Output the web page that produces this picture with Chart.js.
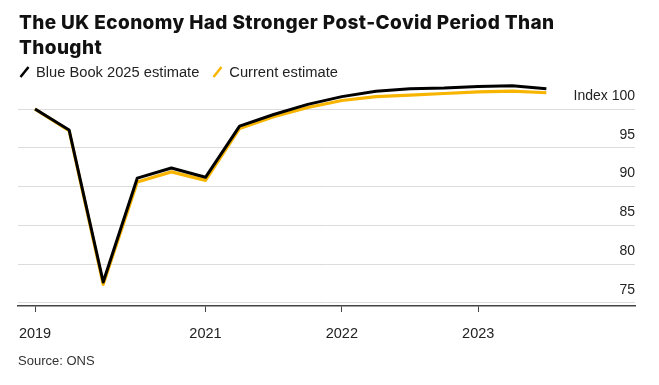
<!DOCTYPE html>
<html>
<head>
<meta charset="utf-8">
<script src="https://cdn.jsdelivr.net/npm/chart.js@4/dist/chart.umd.min.js"></script>
<style>
  html, body { margin: 0; padding: 0; background: #fff; }
  #wrap { position: relative; width: 659px; height: 385px; overflow: hidden; }
  #chart { position: absolute; left: 0; top: 0; }
  .title { position: absolute; left: 19px; top: 10px; font-family: Inter, "Liberation Sans", sans-serif;
    font-weight: 800; font-size: 19px; line-height: 25px; color: #111; letter-spacing: 0.4px; }
  .legend { position: absolute; left: 19px; top: 64px; font-family: "Liberation Sans", Arial, sans-serif;
    font-size: 14.7px; line-height: 16px; color: #222; white-space: nowrap; }
  .legend span { display: inline-block; vertical-align: top; }
  .legend svg { vertical-align: top; margin-right: 6px; }
  .source { position: absolute; left: 18px; top: 353px; font-family: "Liberation Sans", Arial, sans-serif;
    font-size: 13px; line-height: 15px; color: #333; }
</style>
</head>
<body>
<div id="wrap">
  <canvas id="chart" width="659" height="385"></canvas>
  <div class="title">The UK Economy Had Stronger Post-Covid Period Than<br>Thought</div>
  <div class="legend">
    <svg width="11" height="14"><line x1="1.5" y1="13" x2="9.5" y2="3" stroke="#000" stroke-width="2.5"/></svg><span style="margin-right:13px">Blue Book 2025 estimate</span><svg width="11" height="14"><line x1="1.5" y1="13" x2="9.5" y2="3" stroke="#f7b500" stroke-width="2.5"/></svg><span>Current estimate</span>
  </div>
  <div class="source">Source: ONS</div>
</div>
<script>
// quarterly GDP index, 2019 Q4 = 100
const quarters = ['2019 Q4', '2020 Q1', '2020 Q2', '2020 Q3', '2020 Q4',
  '2021 Q1', '2021 Q2', '2021 Q3', '2021 Q4',
  '2022 Q1', '2022 Q2', '2022 Q3', '2022 Q4',
  '2023 Q1', '2023 Q2', '2023 Q3'];
const blueBook = [100.0, 97.3, 77.7, 91.1, 92.4, 91.2, 97.8, 99.3, 100.6,
  101.6, 102.3, 102.6, 102.7, 102.9, 103.0, 102.6];
const current = [100.0, 97.2, 77.4, 90.6, 91.9, 90.8, 97.5, 99.0, 100.2,
  101.1, 101.6, 101.8, 102.0, 102.2, 102.3, 102.1];

// x-axis ticks (quarter index) and their labels
const xTickAt = [0, 5, 9, 13];
const xTickLabels = ['2019', '2021', '2022', '2023'];
const yTicks = [75, 80, 85, 90, 95, 100];

const toPoints = arr => arr.map((v, i) => ({x: i, y: v}));

const ctx = document.getElementById('chart');
new Chart(ctx, {
  type: 'line',
  data: {
    labels: quarters,
    datasets: [
      {
        label: 'Blue Book 2025 estimate',
        data: toPoints(blueBook),
        borderColor: '#000',
        borderWidth: 3,
        order: 0
      },
      {
        label: 'Current estimate',
        data: toPoints(current),
        borderColor: '#f7b500',
        borderWidth: 3.2,
        order: 1
      }
    ]
  },
  options: {
    responsive: false,
    animation: false,
    devicePixelRatio: 1,
    elements: {
      point: { radius: 0 },
      line: { tension: 0, borderJoinStyle: 'round', fill: false }
    },
    layout: {
      padding: { top: 78, left: 18, right: 24, bottom: 39 }
    },
    plugins: {
      legend: { display: false },
      title: { display: false },
      tooltip: { enabled: false }
    },
    scales: {
      x: {
        type: 'linear',
        min: -0.5,
        max: 17.6,
        afterBuildTicks: scale => { scale.ticks = xTickAt.map(v => ({value: v})); },
        afterFit: scale => { scale.height = 40; },
        grid: { drawOnChartArea: false, drawTicks: true, tickLength: 6, color: '#444', lineWidth: 1 },
        border: { display: true, color: '#444', width: 1.5 },
        ticks: {
          autoSkip: false,
          maxRotation: 0,
          padding: 13,
          color: '#222',
          font: { family: '"Liberation Sans", Arial, sans-serif', size: 14.5 },
          callback: v => xTickLabels[xTickAt.indexOf(v)]
        }
      },
      y: {
        position: 'right',
        min: 74.61,
        max: 104.0,
        afterBuildTicks: scale => { scale.ticks = yTicks.map(v => ({value: v})); },
        afterFit: scale => { scale.width = 0; },
        grid: { color: '#dcdcdc', lineWidth: 1, drawTicks: false },
        border: { display: false },
        ticks: {
          mirror: true,
          crossAlign: 'near',
          padding: 0,
          labelOffset: -13,
          color: '#222',
          font: { family: '"Liberation Sans", Arial, sans-serif', size: 14 },
          callback: v => v === 100 ? 'Index 100' : String(v)
        }
      }
    }
  }
});
</script>
</body>
</html>
